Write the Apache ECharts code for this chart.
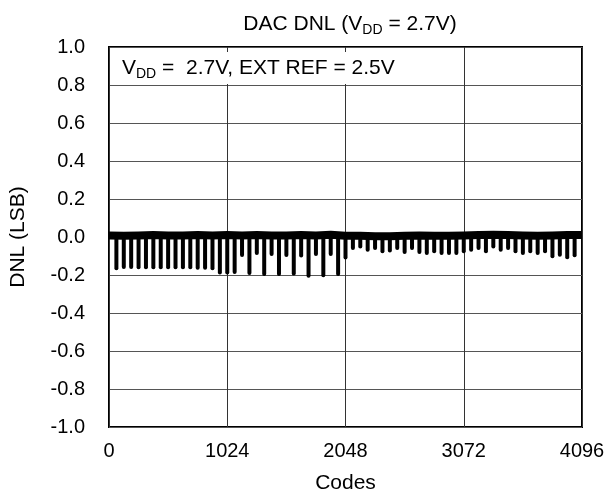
<!DOCTYPE html>
<html>
<head>
<meta charset="utf-8">
<script src="https://cdn.jsdelivr.net/npm/echarts@6/dist/echarts.min.js"></script>
<style>
  html, body { margin: 0; padding: 0; background: #fff; }
  #chart { width: 608px; height: 499px; }
</style>
</head>
<body>
<div id="chart"></div>
<script>
// codes where the DNL dips (major transitions)
const spikeCodes = [
  64, 128, 192, 256, 320, 384, 448, 512, 576, 640, 704, 768, 832, 896, 960, 1024,
  1088, 1152, 1216, 1280, 1344, 1408, 1472, 1536, 1600, 1664, 1728, 1792, 1856, 1920, 1984, 2048,
  2112, 2176, 2240, 2304, 2368, 2432, 2496, 2560, 2624, 2688, 2752, 2816, 2880, 2944, 3008, 3072,
  3136, 3200, 3264, 3328, 3392, 3456, 3520, 3584, 3648, 3712, 3776, 3840, 3904, 3968, 4032,
]
const spikeDnl = [
  -0.175, -0.168, -0.168, -0.17, -0.17, -0.17, -0.17, -0.17, -0.17, -0.17, -0.17, -0.172, -0.172, -0.175, -0.198, -0.198,
  -0.195, -0.105, -0.2, -0.095, -0.205, -0.1, -0.205, -0.105, -0.203, -0.108, -0.215, -0.1, -0.212, -0.1, -0.205, -0.118,
  -0.068, -0.06, -0.077, -0.068, -0.086, -0.082, -0.068, -0.089, -0.068, -0.089, -0.095, -0.086, -0.095, -0.095, -0.095, -0.086,
  -0.077, -0.068, -0.086, -0.06, -0.077, -0.068, -0.086, -0.095, -0.086, -0.095, -0.086, -0.112, -0.104, -0.117, -0.107,
]
// centre of the noisy band around zero
const bandCodes = [
  0, 128, 256, 384, 512, 640, 768, 896, 1024, 1152, 1280, 1408, 1536, 1664, 1792, 1920,
  2048, 2176, 2304, 2432, 2560, 2688, 2816, 2944, 3072, 3200, 3328, 3456, 3584, 3712, 3840, 3968, 4096,
]
const bandDnl = [
  0.008, 0.006, 0.008, 0.01, 0.008, 0.008, 0.01, 0.008, 0.01, 0.008, 0.01, 0.008, 0.008, 0.01, 0.008, 0.012,
  0.006, 0.006, 0.004, 0.004, 0.006, 0.008, 0.006, 0.006, 0.008, 0.01, 0.012, 0.01, 0.008, 0.006, 0.008, 0.01, 0.01,
]

const FONT = 'Liberation Sans, Arial, sans-serif'

const chart = echarts.init(document.getElementById('chart'))

const option = {
  animation: false,
  title: [
    {
      text: 'DAC DNL (V{sub|DD} = 2.7V)',
      left: 345,
      top: 6,
      textAlign: 'center',
      textStyle: {
        fontFamily: FONT,
        fontSize: 21,
        fontWeight: 'normal',
        color: '#000',
        lineHeight: 26,
        rich: {
          sub: { fontFamily: FONT, fontSize: 14, lineHeight: 14, verticalAlign: 'bottom', color: '#000' },
        },
      },
    },
    {
      text: 'V{sub|DD} =  2.7V, EXT REF = 2.5V',
      left: 116,
      top: 52,
      padding: [3, 6, 3, 6],
      backgroundColor: '#fff',
      textStyle: {
        fontFamily: FONT,
        fontSize: 21,
        fontWeight: 'normal',
        color: '#000',
        lineHeight: 26,
        rich: {
          sub: { fontFamily: FONT, fontSize: 14, lineHeight: 12, verticalAlign: 'bottom', color: '#000' },
        },
      },
    },
  ],
  grid: {
    left: 108,
    right: 26,
    top: 47,
    bottom: 72,
    show: true,
    borderColor: '#000',
    borderWidth: 2,
  },
  xAxis: {
    type: 'value',
    min: 0,
    max: 4096,
    interval: 1024,
    name: 'Codes',
    nameLocation: 'middle',
    nameGap: 46,
    nameTextStyle: { fontFamily: FONT, fontSize: 21, color: '#000' },
    axisLine: { show: false },
    axisTick: { show: false },
    axisLabel: {
      fontFamily: FONT,
      fontSize: 20,
      color: '#000',
      margin: 14,
      formatter: (v) => String(v),
    },
    splitLine: { show: true, lineStyle: { color: '#333', width: 1 } },
  },
  yAxis: {
    type: 'value',
    min: -1,
    max: 1,
    interval: 0.2,
    name: 'DNL (LSB)',
    nameLocation: 'middle',
    nameGap: 80,
    nameTextStyle: { fontFamily: FONT, fontSize: 21, color: '#000' },
    axisLine: { show: false },
    axisTick: { show: false },
    axisLabel: {
      fontFamily: FONT,
      fontSize: 20,
      color: '#000',
      margin: 24,
      formatter: (v) => v.toFixed(1),
    },
    splitLine: { show: true, lineStyle: { color: '#555', width: 1 } },
  },
  series: [
    {
      name: 'spikes',
      type: 'bar',
      barWidth: 4,
      data: spikeCodes.map((c, i) => [c, spikeDnl[i]]),
      itemStyle: { color: '#000', borderRadius: 2 },
      z: 3,
    },
    {
      name: 'band',
      type: 'line',
      showSymbol: false,
      data: bandCodes.map((c, i) => [c, bandDnl[i]]),
      lineStyle: { color: '#000', width: 8, join: 'round', cap: 'butt' },
      z: 4,
    },
  ],
}

chart.setOption(option)
</script>
</body>
</html>
